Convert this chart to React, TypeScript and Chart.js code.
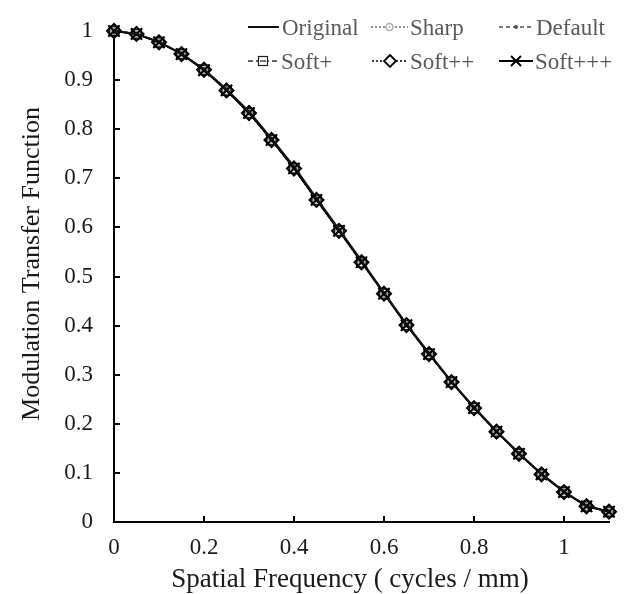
import React, { useEffect, useRef } from 'react';
import { Chart, registerables } from 'chart.js';

Chart.register(...registerables);

// ---------- data ----------
const frequencies = [0, 0.05, 0.1, 0.15, 0.2, 0.25, 0.3, 0.35, 0.4, 0.45, 0.5, 0.55, 0.6, 0.65, 0.7, 0.75, 0.8, 0.85, 0.9, 0.95, 1.0, 1.05, 1.1];
const original = [1.0, 0.994, 0.978, 0.954, 0.922, 0.881, 0.836, 0.781, 0.724, 0.659, 0.596, 0.532, 0.467, 0.403, 0.344, 0.286, 0.234, 0.185, 0.140, 0.098, 0.062, 0.033, 0.021];
const sharp = [1.0, 0.994, 0.978, 0.954, 0.922, 0.881, 0.836, 0.781, 0.724, 0.659, 0.596, 0.532, 0.467, 0.403, 0.344, 0.286, 0.234, 0.185, 0.140, 0.098, 0.062, 0.033, 0.021];
const defaultSeries = [1.0, 0.994, 0.978, 0.954, 0.922, 0.881, 0.835, 0.780, 0.723, 0.658, 0.595, 0.531, 0.466, 0.402, 0.343, 0.285, 0.233, 0.185, 0.140, 0.098, 0.062, 0.033, 0.021];
const softPlus = [1.0, 0.994, 0.977, 0.953, 0.921, 0.879, 0.833, 0.778, 0.720, 0.656, 0.593, 0.529, 0.465, 0.401, 0.342, 0.285, 0.232, 0.184, 0.139, 0.097, 0.061, 0.032, 0.021];
const softPlusPlus = [1.0, 0.994, 0.977, 0.953, 0.921, 0.879, 0.833, 0.778, 0.720, 0.656, 0.593, 0.529, 0.465, 0.401, 0.342, 0.285, 0.232, 0.184, 0.139, 0.097, 0.061, 0.032, 0.021];
const softPlusPlusPlus = [1.0, 0.994, 0.977, 0.953, 0.920, 0.879, 0.833, 0.778, 0.720, 0.656, 0.593, 0.529, 0.465, 0.401, 0.342, 0.285, 0.232, 0.184, 0.139, 0.097, 0.061, 0.032, 0.021];

const seriesNames = ['Original', 'Sharp', 'Default', 'Soft+', 'Soft++', 'Soft+++'];
const seriesValues = [original, sharp, defaultSeries, softPlus, softPlusPlus, softPlusPlusPlus];

const xTickValues = [0, 0.2, 0.4, 0.6, 0.8, 1];
const yTickValues = [0, 0.1, 0.2, 0.3, 0.4, 0.5, 0.6, 0.7, 0.8, 0.9, 1];

const xTitle = 'Spatial Frequency ( cycles / mm)';
const yTitle = 'Modulation Transfer Function';

// ---------- styles ----------
const FONT = "'Liberation Serif', 'Times New Roman', serif";

type SeriesStyle = {
  line: string;
  width: number;
  dash: number[];
  marker: 'none' | 'circle' | 'dot' | 'rect' | 'diamond' | 'cross';
  markerColor: string;
  markerFill: string;
  radius: number;
  markerWidth: number;
  order: number;
};

const styles: SeriesStyle[] = [
  { line: '#111111', width: 2, dash: [], marker: 'none', markerColor: '#000', markerFill: 'rgba(0,0,0,0)', radius: 0, markerWidth: 1, order: 0 },
  { line: '#6f6f6f', width: 1.5, dash: [2, 2], marker: 'circle', markerColor: '#b0b0b0', markerFill: 'rgba(255,255,255,0)', radius: 3.5, markerWidth: 1.5, order: 5 },
  { line: '#505050', width: 1.5, dash: [4, 3], marker: 'dot', markerColor: '#505050', markerFill: '#505050', radius: 2, markerWidth: 1, order: 4 },
  { line: '#333333', width: 1.5, dash: [5, 3], marker: 'rect', markerColor: '#222222', markerFill: 'rgba(255,255,255,0)', radius: 6.6, markerWidth: 1.6, order: 3 },
  { line: '#000000', width: 1.5, dash: [2, 2], marker: 'diamond', markerColor: '#000000', markerFill: 'rgba(255,255,255,0)', radius: 7, markerWidth: 2, order: 2 },
  { line: '#000000', width: 1.8, dash: [], marker: 'cross', markerColor: '#000000', markerFill: '#000000', radius: 8, markerWidth: 2, order: 1 },
];

const pointStyleMap: Record<string, any> = {
  none: 'circle',
  circle: 'circle',
  dot: 'circle',
  rect: 'rect',
  diamond: 'rectRot',
  cross: 'crossRot',
};

// legend + title placement (layout only)
const legendCells = [
  { x0: 248, x1: 279, tx: 282, base: 35 },
  { x0: 371, x1: 408, tx: 410, base: 35 },
  { x0: 499, x1: 533, tx: 536, base: 35 },
  { x0: 248, x1: 278, tx: 281, base: 69 },
  { x0: 372, x1: 408, tx: 410, base: 69 },
  { x0: 499, x1: 533, tx: 535, base: 69 },
];
const xTitlePos = { x: 350, y: 580 };
const yTitlePos = { x: 32, y: 264 };

function drawMarker(ctx: CanvasRenderingContext2D, s: SeriesStyle, x: number, y: number) {
  ctx.save();
  ctx.setLineDash([]);
  ctx.strokeStyle = s.markerColor;
  ctx.lineWidth = s.markerWidth;
  if (s.marker === 'circle') {
    ctx.beginPath();
    ctx.arc(x, y, 3.5, 0, Math.PI * 2);
    ctx.fillStyle = '#fff';
    ctx.fill();
    ctx.stroke();
    ctx.beginPath();
    ctx.fillStyle = s.markerColor;
    ctx.arc(x, y, 1, 0, Math.PI * 2);
    ctx.fill();
  } else if (s.marker === 'dot') {
    ctx.beginPath();
    ctx.fillStyle = s.markerColor;
    ctx.arc(x, y, 2, 0, Math.PI * 2);
    ctx.fill();
  } else if (s.marker === 'rect') {
    ctx.lineWidth = 1.2;
    ctx.fillStyle = '#fff';
    ctx.fillRect(x - 4.5, y - 4.5, 9, 9);
    ctx.strokeRect(x - 4.5, y - 4.5, 9, 9);
    ctx.beginPath();
    ctx.moveTo(x - 3, y);
    ctx.lineTo(x + 3, y);
    ctx.stroke();
  } else if (s.marker === 'diamond') {
    ctx.lineWidth = 1.8;
    ctx.beginPath();
    ctx.moveTo(x, y - 6);
    ctx.lineTo(x + 6, y);
    ctx.lineTo(x, y + 6);
    ctx.lineTo(x - 6, y);
    ctx.closePath();
    ctx.fillStyle = '#fff';
    ctx.fill();
    ctx.stroke();
  } else if (s.marker === 'cross') {
    ctx.beginPath();
    ctx.moveTo(x - 5, y - 5);
    ctx.lineTo(x + 5, y + 5);
    ctx.moveTo(x + 5, y - 5);
    ctx.lineTo(x - 5, y + 5);
    ctx.stroke();
  }
  ctx.restore();
}

const legendPlugin = {
  id: 'gridLegend',
  afterDraw(chart: any) {
    const ctx: CanvasRenderingContext2D = chart.ctx;
    ctx.save();
    seriesNames.forEach((name, i) => {
      const c = legendCells[i];
      const s = styles[i];
      ctx.save();
      ctx.strokeStyle = s.line;
      ctx.lineWidth = s.width;
      ctx.setLineDash(s.dash);
      ctx.beginPath();
      ctx.moveTo(c.x0, c.base - 8);
      ctx.lineTo(c.x1, c.base - 8);
      ctx.stroke();
      ctx.restore();
      if (s.marker !== 'none') drawMarker(ctx, s, (c.x0 + c.x1) / 2, c.base - 8);
      ctx.fillStyle = '#595959';
      ctx.font = `23px ${FONT}`;
      ctx.textAlign = 'left';
      ctx.textBaseline = 'alphabetic';
      ctx.fillText(name, c.tx, c.base);
    });
    ctx.restore();
  },
};

const axisTitlePlugin = {
  id: 'axisTitles',
  afterDraw(chart: any) {
    const ctx: CanvasRenderingContext2D = chart.ctx;
    ctx.save();
    ctx.fillStyle = '#1a1a1a';
    ctx.textAlign = 'center';
    ctx.textBaseline = 'middle';
    ctx.font = `27px ${FONT}`;
    ctx.fillText(xTitle, xTitlePos.x, xTitlePos.y);
    ctx.translate(yTitlePos.x, yTitlePos.y);
    ctx.rotate(-Math.PI / 2);
    ctx.font = `26px ${FONT}`;
    ctx.fillText(yTitle, 0, 0);
    ctx.restore();
  },
};

const fmt = (v: any) => String(+Number(v).toFixed(2));

export default function App() {
  const canvasRef = useRef<HTMLCanvasElement | null>(null);

  useEffect(() => {
    document.body.style.margin = '0';
    const canvas = canvasRef.current;
    if (!canvas) return;

    const datasets = seriesNames.map((name, i) => {
      const s = styles[i];
      return {
        label: name,
        data: frequencies.map((f, j) => ({ x: f, y: seriesValues[i][j] })),
        order: s.order,
        borderColor: s.line,
        borderWidth: s.width,
        borderDash: s.dash,
        pointStyle: pointStyleMap[s.marker],
        pointRadius: s.radius,
        pointBorderColor: s.markerColor,
        pointBackgroundColor: s.markerFill,
        pointBorderWidth: s.markerWidth,
        pointHoverRadius: s.radius,
        fill: false,
        tension: 0,
        clip: false as const,
      };
    });

    const chart = new Chart(canvas, {
      type: 'line',
      data: { datasets },
      options: {
        animation: false,
        responsive: true,
        maintainAspectRatio: false,
        events: [],
        layout: { padding: { top: 31, right: 18, bottom: 0, left: 0 } },
        plugins: { legend: { display: false }, tooltip: { enabled: false } },
        scales: {
          x: {
            type: 'linear',
            min: 0,
            max: 1.1,
            afterBuildTicks: (axis: any) => {
              axis.ticks = xTickValues.map((v) => ({ value: v }));
            },
            afterFit: (axis: any) => {
              axis.height = 72;
              axis.paddingLeft = 0;
              axis.paddingRight = 0;
              axis.paddingTop = 0;
              axis.paddingBottom = 0;
            },
            border: { display: true, color: '#000', width: 2 },
            grid: { drawOnChartArea: false, drawTicks: true, tickLength: -6, color: '#000', lineWidth: 2 },
            ticks: { callback: fmt, color: '#1a1a1a', font: { family: FONT, size: 23 }, padding: 18, maxRotation: 0, autoSkip: false },
            title: { display: false },
          },
          y: {
            type: 'linear',
            min: 0,
            max: 1,
            afterBuildTicks: (axis: any) => {
              axis.ticks = yTickValues.map((v) => ({ value: v }));
            },
            afterFit: (axis: any) => {
              axis.width = 114;
              axis.paddingLeft = 0;
              axis.paddingRight = 0;
              axis.paddingTop = 0;
              axis.paddingBottom = 0;
            },
            border: { display: true, color: '#000', width: 2 },
            grid: { drawOnChartArea: false, drawTicks: true, tickLength: -6, color: '#000', lineWidth: 2 },
            ticks: { callback: fmt, color: '#1a1a1a', font: { family: FONT, size: 23 }, padding: 27, autoSkip: false },
            title: { display: false },
          },
        },
      },
      plugins: [legendPlugin, axisTitlePlugin],
    });

    return () => chart.destroy();
  }, []);

  return (
    <div style={{ position: 'fixed', left: 0, top: 0, width: 627, height: 594, background: '#fff' }}>
      <canvas ref={canvasRef} />
    </div>
  );
}
